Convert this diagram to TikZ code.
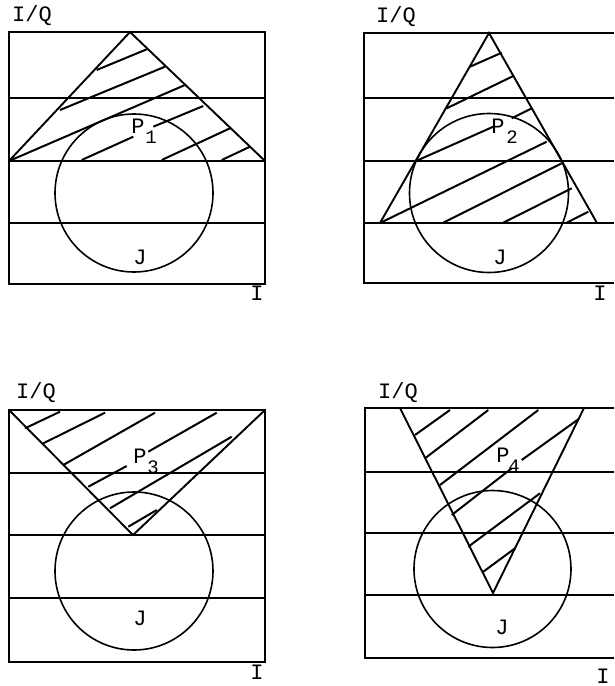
\documentclass[tikz,border=0pt]{standalone}
\usepackage{fontspec}
\setmonofont{Liberation Mono}
\begin{document}
\begin{tikzpicture}[x=1pt,y=-1pt,
  frame/.style={line width=2.2pt},
  band/.style={line width=2.2pt},
  tri/.style={line width=1.9pt, line join=miter},
  ring/.style={line width=1.6pt},
  hatch/.style={line width=2pt},
  lbl/.style={font=\ttfamily\fontsize{22}{22}\selectfont, inner sep=0pt},
  sub/.style={font=\ttfamily\fontsize{19}{19}\selectfont, inner sep=0pt}]
\useasboundingbox (0,0) rectangle (614,686);

% ---------------- Panel 1 ----------------
\draw[frame] (9,32) rectangle (265,284);
\foreach \y in {98,161,223} \draw[band] (9,\y) -- (265,\y);
\coordinate (a1) at (130,32); \coordinate (b1) at (9,161); \coordinate (c1) at (265,161);
\draw[tri] (b1) -- (a1) -- (c1);
\node[draw, circle, ring, minimum size=158pt, inner sep=0pt] (j1) at (134,193) {};
\draw[hatch] (96.7,70) -- (146.7,49.3);
\draw[hatch] (60,110) -- (165,66.7);
\draw[hatch] (b1) -- (185,85);
\draw[hatch] (81.7,160) -- (133.3,136.7);
\draw[hatch] (153.3,126.7) -- (203.3,106);
\draw[hatch] (161.7,160) -- (230,128.3);
\draw[hatch] (221.7,160) -- (250,146.7);
\node[lbl] (iq1) at (32,16) {I/Q};
\node[lbl] (p1) at (138,126) {P};
\node[sub] (s1) at (151,137) {1};
\node[lbl] (jl1) at (140,257) {J};
\node[lbl] (i1) at (257,293) {I};

% ---------------- Panel 2 ----------------
\draw[frame] (614,33) -- (364,33) -- (364,283) -- (614,283);
\foreach \y in {98,161,223} \draw[band] (364,\y) -- (614,\y);
\coordinate (a2) at (489,33); \coordinate (b2) at (380,223); \coordinate (c2) at (597,223);
\draw[tri] (b2) -- (a2) -- (c2);
\node[draw, circle, ring, minimum size=159pt, inner sep=0pt] (j2) at (489,193) {};
\draw[hatch] (470,66.7) -- (501.7,52.7);
\draw[hatch] (446.7,108.3) -- (513.3,76);
\draw[hatch] (418.3,160) -- (493.3,126.7);
\draw[hatch] (511.7,118.3) -- (531.7,108.3);
\draw[hatch] (b2) -- (546.7,141.7);
\draw[hatch] (443.3,222.7) -- (561.7,163.3);
\draw[hatch] (503.3,222.7) -- (571.7,188.3);
\draw[hatch] (566.7,222.7) -- (588.3,211.7);
\node[lbl] (iq2) at (396,17) {I/Q};
\node[lbl] (p2) at (498,126) {P};
\node[sub] (s2) at (512,137) {2};
\node[lbl] (jl2) at (500,257) {J};
\node[lbl] (i2) at (600,293) {I};

% ---------------- Panel 3 ----------------
\draw[frame] (9,410) rectangle (265,662);
\foreach \y in {473,535,598} \draw[band] (9,\y) -- (265,\y);
\coordinate (a3) at (133,535); \coordinate (b3) at (9,410); \coordinate (c3) at (265,410);
\draw[tri] (b3) -- (a3) -- (c3);
\node[draw, circle, ring, minimum size=158pt, inner sep=0pt] (j3) at (134,571) {};
\draw[hatch] (25,428.3) -- (60,411.7);
\draw[hatch] (43.3,443.3) -- (105,412.7);
\draw[hatch] (63.3,465) -- (155,412.7);
\draw[hatch] (88.3,486.7) -- (126.7,466);
\draw[hatch] (148.3,451.7) -- (216.7,412.7);
\draw[hatch] (110,508.3) -- (231.7,436.7);
\draw[hatch] (128.3,526.7) -- (156.7,510);
\node[lbl] (iq3) at (36,393) {I/Q};
\node[lbl] (p3) at (140,456) {P};
\node[sub] (s3) at (153,467) {3};
\node[lbl] (jl3) at (140,618) {J};
\node[lbl] (i3) at (257,672) {I};

% ---------------- Panel 4 ----------------
\draw[frame] (614,408) -- (365,408) -- (365,658) -- (614,658);
\foreach \y in {472,533,595} \draw[band] (365,\y) -- (614,\y);
\coordinate (a4) at (493,593); \coordinate (b4) at (400,408); \coordinate (c4) at (584,408);
\draw[tri] (b4) -- (a4) -- (c4);
\node[draw, circle, ring, minimum size=157pt, inner sep=0pt] (j4) at (492.5,569) {};
\draw[hatch] (415,435) -- (450,410);
\draw[hatch] (425,458.3) -- (488.3,410);
\draw[hatch] (440,485) -- (538.3,410);
\draw[hatch] (451.7,515) -- (511.7,468.3);
\draw[hatch] (521.7,460) -- (578.3,419.3);
\draw[hatch] (468.3,546.7) -- (540,493.3);
\draw[hatch] (483.3,571.7) -- (515,548.3);
\node[lbl] (iq4) at (398,393) {I/Q};
\node[lbl] (p4) at (503,455) {P};
\node[sub] (s4) at (514,466) {4};
\node[lbl] (jl4) at (502,627) {J};
\node[lbl] (i4) at (603,676) {I};
\end{tikzpicture}
\end{document}
